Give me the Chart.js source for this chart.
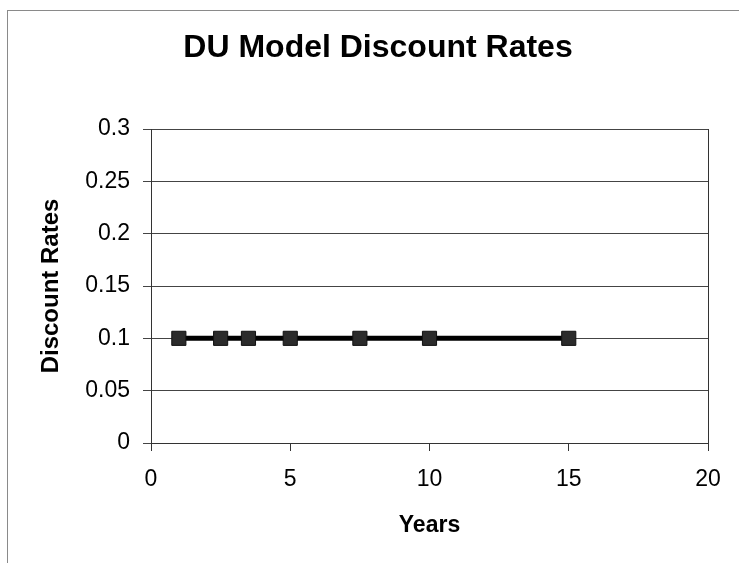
<!DOCTYPE html>
<html>
<head>
<meta charset="utf-8">
<script src="https://cdn.jsdelivr.net/npm/chart.js@4/dist/chart.umd.min.js"></script>
<style>
  html, body { margin: 0; padding: 0; background: #fff; overflow: hidden; }
  #wrap { position: relative; width: 739px; height: 563px; }
  #frame { position: absolute; left: 7px; top: 10px; width: 760px; height: 600px; border: 1px solid #8a8a8a; }
  #chart-rates { position: absolute; left: 0; top: 0; }
</style>
</head>
<body>
<div id="wrap">
  <div id="frame"></div>
  <canvas id="chart-rates" width="739" height="563"></canvas>
</div>
<script>
// data
const years = [1, 2.5, 3.5, 5, 7.5, 10, 15];
const discountRates = [0.1, 0.1, 0.1, 0.1, 0.1, 0.1, 0.1];

const fontFamily = "'Liberation Sans', Arial, sans-serif";
Chart.defaults.font.family = fontFamily;
Chart.defaults.color = "#000";

const points = years.map((year, i) => ({ x: year, y: discountRates[i] }));

const ctxRates = document.getElementById("chart-rates");
new Chart(ctxRates, {
  type: "line",
  data: {
    datasets: [
      {
        label: "Discount Rates",
        data: points,
        borderColor: "#000",
        borderWidth: 5,
        pointStyle: "rect",
        pointRadius: 10,
        pointBackgroundColor: "#2b2b2b",
        pointBorderColor: "#111",
        pointBorderWidth: 1,
        tension: 0,
      },
    ],
  },
  options: {
    responsive: false,
    animation: false,
    layout: {
      padding: { left: 17, top: 0, right: 0, bottom: 0 },
    },
    plugins: {
      legend: { display: false },
      tooltip: { enabled: false },
      title: {
        display: true,
        text: "DU Model Discount Rates",
        font: { size: 32, weight: "bold" },
        color: "#000",
        padding: { top: 29, bottom: 61.6 },
      },
    },
    scales: {
      x: {
        type: "linear",
        min: 0,
        max: 20,
        ticks: { stepSize: 5, font: { size: 23 }, padding: 15, color: "#000" },
        grid: { drawOnChartArea: false, drawTicks: true, tickLength: 8, color: "#333" },
        border: { color: "#333", width: 1 },
        title: {
          display: true,
          text: "Years",
          font: { size: 23, weight: "bold" },
          color: "#000",
          padding: { top: 0, bottom: 24 },
        },
        afterFit: (scale) => {
          scale.height = 120;
        },
      },
      y: {
        type: "linear",
        min: 0,
        max: 0.3,
        ticks: {
          stepSize: 0.05,
          font: { size: 23 },
          padding: 13,
          color: "#000",
          callback: (value) => String(Math.round(value * 100) / 100),
        },
        grid: { drawOnChartArea: true, drawTicks: true, tickLength: 8, color: "#444", lineWidth: 1 },
        border: { color: "#333", width: 1 },
        title: {
          display: true,
          text: "Discount Rates",
          font: { size: 24, weight: "bold" },
          color: "#000",
          padding: { top: 20, bottom: 0 },
        },
        afterFit: (scale) => {
          scale.width = 134;
        },
      },
      yRight: {
        type: "linear",
        position: "right",
        min: 0,
        max: 0.3,
        ticks: { display: false },
        grid: { drawOnChartArea: false, drawTicks: false },
        border: { display: true, color: "#333", width: 1 },
        afterFit: (scale) => {
          scale.width = 31;
        },
      },
    },
  },
});
</script>
</body>
</html>
